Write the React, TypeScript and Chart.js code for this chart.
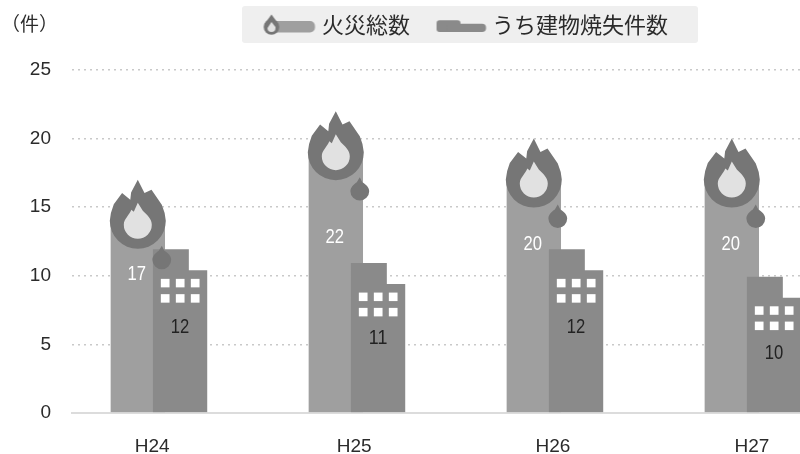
import React, { useEffect, useRef } from "react";
import { Chart, registerables } from "chart.js";

Chart.register(...registerables);

const categories = ["H24", "H25", "H26", "H27"];
const fireTotals = [17, 22, 20, 20];
const buildingFires = [12, 11, 12, 10];
const yTicks = [0, 5, 10, 15, 20, 25];
const seriesNames = ["火災総数", "うち建物焼失件数"];
const unitLabel = "（件）";

// layout constants (not data)
const tickPositions = [-0.034, 0.986, 1.99, 2.995];
const fireLabelAt = [10.2, 12.9, 12.4, 12.4];
const buildLabelAt = [6.29, 5.52, 6.29, 4.42];
const X_MIN = -0.4389;
const X_MAX = 3.2379;
const FIRE_SHIFT = -0.1066;
const BUILD_SHIFT = 0.107;
const BAR_W = 54.5;

const FIRE_C = "#9f9f9f";
const BUILD_C = "#8a8a8a";
const FLAME_C = "#767676";
const INNER_C = "#e1e1e1";
const TEXT_C = "#2b2b2b";
const TICK_FONT = "Liberation Sans";
const LEGEND_FONT = "Noto Sans CJK JP";
const VALUE_FONT = `21px "Liberation Sans"`;
const VALUE_W = 18.5;

function flamePath(c: CanvasRenderingContext2D, x: number, y: number, s: number) {
  const p = (dx: number, dy: number): [number, number] => [x + dx * s, y + dy * s];
  c.beginPath();
  c.moveTo(...p(-28, 41));
  c.quadraticCurveTo(...p(-27.5, 33), ...p(-24, 24.5));
  c.lineTo(...p(-15.7, 13.3));
  c.lineTo(...p(-7.5, 20));
  c.lineTo(...p(-6.7, 12.7));
  c.lineTo(...p(0, 0));
  c.lineTo(...p(6.7, 13.3));
  c.lineTo(...p(13.7, 10));
  c.lineTo(...p(24, 25));
  c.quadraticCurveTo(...p(27.5, 33), ...p(28, 41));
  c.arc(x, y + 41 * s, 28 * s, 0, Math.PI);
  c.closePath();
}

function innerPath(c: CanvasRenderingContext2D, x: number, y: number, s: number) {
  const p = (dx: number, dy: number): [number, number] => [x + dx * s, y + dy * s];
  c.beginPath();
  c.moveTo(...p(0, 23));
  c.lineTo(...p(5, 31));
  c.bezierCurveTo(...p(9, 35), ...p(14, 39), ...p(14, 45));
  c.arc(x, y + 45 * s, 14 * s, 0, Math.PI * 0.5);
  c.arc(x, y + 45 * s, 14 * s, Math.PI * 0.5, Math.PI);
  c.bezierCurveTo(...p(-14, 39), ...p(-8, 35), ...p(-6.5, 30));
  c.lineTo(...p(-4, 32));
  c.closePath();
}

function dropPath(c: CanvasRenderingContext2D, x: number, y: number) {
  c.beginPath();
  c.moveTo(x, y);
  c.lineTo(x + 2.5, y + 5);
  c.bezierCurveTo(x + 6, y + 7, x + 9.4, y + 10, x + 9.4, y + 14);
  c.arc(x, y + 14, 9.4, 0, Math.PI);
  c.bezierCurveTo(x - 9.4, y + 10, x - 6, y + 7, x - 3, y + 5);
  c.closePath();
}

function makeIcon(kind: number) {
  const cv = document.createElement("canvas");
  cv.width = 64;
  cv.height = 26;
  const c = cv.getContext("2d")!;
  if (kind === 0) {
    c.fillStyle = FIRE_C;
    c.beginPath();
    c.roundRect(14, 9, 44.5, 11.5, 5);
    c.fill();
    c.fillStyle = FLAME_C;
    c.beginPath();
    c.moveTo(15, 2.5);
    c.lineTo(22, 12);
    c.lineTo(8, 12);
    c.closePath();
    c.fill();
    c.beginPath();
    c.arc(15, 15, 7.8, 0, Math.PI * 2);
    c.fill();
    c.fillStyle = INNER_C;
    c.beginPath();
    c.moveTo(15, 10);
    c.lineTo(19, 15);
    c.arc(15, 16, 4, 0, Math.PI);
    c.lineTo(15, 10);
    c.closePath();
    c.fill();
  } else {
    c.fillStyle = BUILD_C;
    c.beginPath();
    c.roundRect(10, 8.3, 24, 11.7, 3);
    c.fill();
    c.beginPath();
    c.roundRect(20, 11.7, 39.5, 8.3, 4);
    c.fill();
  }
  return cv;
}

function topOf(el: any) {
  return el.y as number;
}

const pictPlugin = {
  id: "pict",
  beforeDraw(chart: any) {
    const c = chart.ctx as CanvasRenderingContext2D;
    c.save();
    c.fillStyle = "#efefef";
    c.beginPath();
    c.roundRect(242, 6, 456, 37, 3);
    c.fill();
    c.restore();
  },
  beforeDatasetDraw(chart: any, args: any) {
    const c = chart.ctx as CanvasRenderingContext2D;
    const meta = chart.getDatasetMeta(args.index);
    c.save();
    c.beginPath();
    meta.data.forEach((el: any) => {
      const l = el.x - BAR_W / 2;
      const r = el.x + BAR_W / 2;
      const t = topOf(el);
      const b = el.base;
      if (args.index === 0) {
        c.rect(l, t + 41, BAR_W, b - t - 41);
      } else {
        c.moveTo(l, t + 1);
        c.lineTo(l + 36, t + 1);
        c.lineTo(l + 36, t + 22);
        c.lineTo(r, t + 22);
        c.lineTo(r, b);
        c.lineTo(l, b);
        c.closePath();
      }
    });
    c.clip();
  },
  afterDatasetDraw(chart: any) {
    chart.ctx.restore();
  },
  afterDatasetsDraw(chart: any) {
    const c = chart.ctx as CanvasRenderingContext2D;
    const yScale = chart.scales.y;
    const fire = chart.getDatasetMeta(0).data;
    const build = chart.getDatasetMeta(1).data;
    c.save();
    c.beginPath();
    c.rect(0, 0, 800, 454);
    c.clip();
    c.textAlign = "center";
    c.textBaseline = "middle";
    fire.forEach((el: any, i: number) => {
      const x = el.x;
      const y = topOf(el);
      c.fillStyle = FLAME_C;
      flamePath(c, x, y, 1);
      c.fill();
      c.fillStyle = INNER_C;
      innerPath(c, x, y, 1);
      c.fill();
      c.fillStyle = FLAME_C;
      dropPath(c, x + 24, y + 66);
      c.fill();
      c.fillStyle = "#ffffff";
      c.font = VALUE_FONT;
      c.fillText(String(fireTotals[i]), x - 1, yScale.getPixelForValue(fireLabelAt[i]) + 1, VALUE_W);
    });
    build.forEach((el: any, i: number) => {
      const l = el.x - BAR_W / 2;
      const t = topOf(el);
      c.fillStyle = "#ffffff";
      [0, 1].forEach((row) =>
        [0, 1, 2].forEach((col) => {
          c.fillRect(l + 8 + col * 15, t + 30.5 + row * 15.3, 8.7, 8.5);
        })
      );
      c.fillStyle = "#222222";
      c.font = VALUE_FONT;
      c.fillText(String(buildingFires[i]), el.x, yScale.getPixelForValue(buildLabelAt[i]) + 1, VALUE_W);
    });
    c.restore();
  },
  afterDraw(chart: any) {
    const c = chart.ctx as CanvasRenderingContext2D;
    c.save();
    c.fillStyle = TEXT_C;
    c.font = `19px ${LEGEND_FONT}`;
    c.textAlign = "left";
    c.textBaseline = "middle";
    c.fillText(unitLabel, 1, 24);
    c.restore();
  },
  afterLayout(chart: any) {
    const lg = chart.legend;
    lg.left = 266 - 26;
    lg.top = 14 - 26;
    lg.bottom = 45;
  },
};

export default function App() {
  const ref = useRef<HTMLCanvasElement>(null);
  useEffect(() => {
    const icons = [makeIcon(0), makeIcon(1)];
    const chart = new Chart(ref.current!, {
      type: "bar",
      data: {
        datasets: [
          {
            label: seriesNames[0],
            data: categories.map((_, i) => ({ x: i + FIRE_SHIFT, y: fireTotals[i] })),
            backgroundColor: FIRE_C,
            barThickness: BAR_W,
            grouped: false,
            order: 2,
          },
          {
            label: seriesNames[1],
            data: categories.map((_, i) => ({ x: i + BUILD_SHIFT, y: buildingFires[i] })),
            backgroundColor: BUILD_C,
            barThickness: BAR_W,
            grouped: false,
            order: 1,
          },
        ] as any,
      },
      plugins: [pictPlugin as any],
      options: {
        animation: false,
        responsive: false,
        layout: { padding: { top: 30, left: 0, right: 0, bottom: 0 } },
        plugins: {
          tooltip: { enabled: false },
          legend: {
            position: "top",
            align: "start",
            maxHeight: 40,
            labels: {
              padding: 26,
              usePointStyle: true,
              pointStyleWidth: 45,
              color: TEXT_C,
              font: { family: LEGEND_FONT, size: 22 },
              generateLabels: () =>
                seriesNames.map((text, i) => ({
                  text,
                  pointStyle: icons[i],
                  fontColor: TEXT_C,
                  fillStyle: i === 0 ? FIRE_C : BUILD_C,
                  strokeStyle: "transparent",
                  lineWidth: 0,
                  datasetIndex: i,
                  hidden: false,
                })),
            },
          } as any,
        },
        scales: {
          x: {
            type: "linear",
            offset: false,
            min: X_MIN,
            max: X_MAX,
            grid: { display: false, drawTicks: false, offset: false },
            border: { display: true, color: "#dcdcdc", width: 2 },
            afterBuildTicks: (axis: any) => {
              axis.ticks = tickPositions.map((value) => ({ value }));
            },
            afterFit: (s: any) => {
              s.height = 41;
            },
            ticks: {
              autoSkip: false,
              maxRotation: 0,
              padding: 22,
              color: TEXT_C,
              font: { family: TICK_FONT, size: 19 },
              callback: (_v: any, i: number) => categories[i],
            },
          },
          y: {
            min: 0,
            max: 25,
            grid: { color: "#c9c9c9", lineWidth: 1.5, drawTicks: false },
            border: { display: false, dash: [2, 4] },
            afterBuildTicks: (axis: any) => {
              axis.ticks = yTicks.map((value) => ({ value }));
            },
            afterFit: (s: any) => {
              s.width = 72;
            },
            ticks: {
              padding: 21,
              color: TEXT_C,
              font: { family: TICK_FONT, size: 19 },
            },
          },
        },
      } as any,
    });
    return () => chart.destroy();
  }, []);
  return (
    <div style={{ position: "fixed", left: 0, top: 0, width: 800, height: 454, overflow: "hidden", background: "#fff" }}>
      <canvas ref={ref} width={800} height={454} style={{ display: "block", width: 800, height: 454 }} />
    </div>
  );
}
